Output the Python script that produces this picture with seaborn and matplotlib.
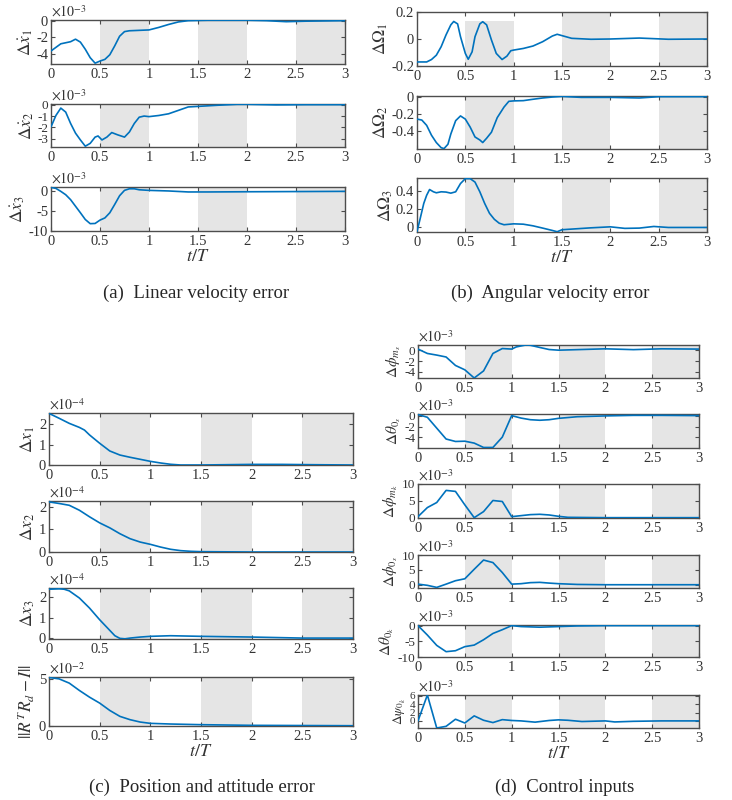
import matplotlib
matplotlib.use("Agg")
import matplotlib.pyplot as plt
import seaborn as sns

# ---- data (values in units of the axis multiplier) ----
# (a) linear velocity error, x1e-3
a1_t = [0, 0.1, 0.2, 0.25, 0.3, 0.35, 0.4, 0.45, 0.5, 0.55, 0.6, 0.65, 0.7, 0.75, 0.8, 0.9, 1.0,
        1.1, 1.2, 1.3, 1.4, 1.6, 2.0, 2.2, 2.4, 2.6, 3.0]
a1_y = [-3.6, -2.75, -2.5, -2.2, -2.55, -3.4, -4.4, -5.05, -4.8, -4.6, -4.05, -3.0, -1.85, -1.3, -1.2,
        -1.15, -1.1, -0.8, -0.45, -0.15, 0.0, 0.05, 0.05, 0.0, -0.12, -0.06, 0.0]
a2_t = [0, 0.05, 0.1, 0.15, 0.2, 0.25, 0.3, 0.35, 0.4, 0.45, 0.48, 0.52, 0.57, 0.62, 0.68, 0.75, 0.8,
        0.85, 0.9, 0.95, 1.0, 1.1, 1.2, 1.3, 1.4, 1.5, 1.7, 1.9, 2.0, 2.3, 2.6, 3.0]
a2_y = [-1.95, -0.95, -0.3, -0.65, -1.65, -2.5, -3.1, -3.65, -3.4, -2.85, -2.75, -3.1, -2.85, -2.45,
        -2.65, -2.85, -2.4, -1.65, -1.1, -1.0, -1.05, -0.95, -0.8, -0.5, -0.2, -0.15, -0.05, 0.03,
        0.03, -0.02, 0.0, 0.0]
a3_t = [0, 0.05, 0.1, 0.15, 0.2, 0.25, 0.3, 0.35, 0.4, 0.45, 0.5, 0.55, 0.6, 0.65, 0.7, 0.75, 0.8,
        0.85, 0.9, 1.0, 1.2, 1.4, 1.6, 2.0, 3.0]
a3_y = [1.0, 0.75, 0.0, -0.85, -2.1, -3.75, -5.4, -7.1, -8.15, -8.1, -7.25, -6.7, -5.4, -3.3, -1.1,
        0.25, 0.65, 0.65, 0.4, 0.25, 0.1, -0.15, -0.15, -0.1, 0.0]

# (b) angular velocity error
b1_t = [0, 0.1, 0.15, 0.2, 0.25, 0.3, 0.35, 0.38, 0.42, 0.45, 0.5, 0.53, 0.57, 0.6, 0.65, 0.68, 0.72,
        0.77, 0.82, 0.88, 0.93, 0.97, 1.0, 1.1, 1.2, 1.3, 1.4, 1.45, 1.5, 1.6, 1.8, 2.0, 2.3, 2.6, 3.0]
b1_y = [-0.17, -0.17, -0.152, -0.12, -0.057, 0.03, 0.105, 0.13, 0.112, 0.017, -0.107, -0.15, -0.095,
        0.017, 0.112, 0.128, 0.105, -0.007, -0.107, -0.152, -0.127, -0.087, -0.082, -0.07, -0.052,
        -0.02, 0.022, 0.035, 0.025, 0.005, -0.002, 0.0, 0.007, -0.002, 0.0]
b2_t = [0, 0.05, 0.1, 0.15, 0.2, 0.25, 0.28, 0.32, 0.35, 0.4, 0.45, 0.5, 0.55, 0.6, 0.65, 0.68, 0.72,
        0.77, 0.83, 0.9, 0.95, 1.0, 1.1, 1.2, 1.3, 1.4, 1.5, 1.7, 2.0, 2.3, 2.5, 3.0]
b2_y = [-0.257, -0.268, -0.33, -0.445, -0.53, -0.59, -0.6, -0.55, -0.43, -0.275, -0.22, -0.257, -0.35,
        -0.465, -0.5, -0.53, -0.48, -0.41, -0.24, -0.117, -0.05, -0.045, -0.042, -0.026, -0.011, 0.0,
        0.007, -0.004, -0.004, -0.011, 0.004, 0.004]
b3_t = [0, 0.03, 0.07, 0.1, 0.13, 0.17, 0.2, 0.25, 0.3, 0.35, 0.4, 0.45, 0.5, 0.55, 0.6, 0.65, 0.7,
        0.75, 0.8, 0.85, 0.9, 1.0, 1.1, 1.2, 1.3, 1.4, 1.45, 1.5, 1.6, 1.8, 2.0, 2.15, 2.3, 2.45, 2.6, 3.0]
b3_y = [-0.045, 0.085, 0.265, 0.355, 0.418, 0.393, 0.382, 0.393, 0.39, 0.378, 0.393, 0.484, 0.538,
        0.538, 0.5, 0.393, 0.265, 0.156, 0.09, 0.047, 0.03, 0.04, 0.036, 0.018, -0.007, -0.033, -0.047,
        -0.025, -0.018, -0.004, 0.007, -0.01, -0.007, 0.011, 0.0, 0.0]

# (c) position and attitude error
c1_t = [0, 0.1, 0.2, 0.3, 0.35, 0.4, 0.5, 0.6, 0.7, 0.8, 0.9, 1.0, 1.1, 1.2, 1.3, 1.5, 2.0, 2.3, 2.6, 3.0]
c1_y = [2.54, 2.3, 2.05, 1.85, 1.72, 1.48, 1.07, 0.69, 0.49, 0.38, 0.28, 0.18, 0.1, 0.035, 0.0, 0.0,
        0.03, 0.03, 0.015, 0.0]
c2_t = [0, 0.1, 0.2, 0.3, 0.4, 0.5, 0.6, 0.7, 0.8, 0.9, 1.0, 1.1, 1.2, 1.3, 1.4, 1.5, 2.0, 3.0]
c2_y = [2.22, 2.15, 2.07, 1.85, 1.56, 1.29, 1.07, 0.81, 0.59, 0.44, 0.34, 0.22, 0.12, 0.06, 0.03,
        0.015, 0.0, 0.0]
c3_t = [0, 0.1, 0.15, 0.2, 0.3, 0.4, 0.5, 0.6, 0.65, 0.7, 0.75, 0.8, 0.9, 1.0, 1.2, 1.5, 2.0, 2.5, 3.0]
c3_y = [2.4, 2.42, 2.4, 2.32, 1.97, 1.48, 0.91, 0.39, 0.13, 0.0, -0.02, 0.015, 0.065, 0.1, 0.13, 0.1,
        0.065, 0.015, 0.015]
c4_t = [0, 0.1, 0.2, 0.3, 0.4, 0.5, 0.6, 0.7, 0.8, 0.9, 1.0, 1.2, 1.5, 2.0, 3.0]
c4_y = [5.15, 5.0, 4.55, 3.77, 3.06, 2.43, 1.65, 1.02, 0.67, 0.42, 0.28, 0.21, 0.14, 0.07, 0.03]

# (d) control inputs, x1e-3
d1_t = [0, 0.1, 0.2, 0.3, 0.4, 0.5, 0.6, 0.7, 0.8, 0.9, 1.0, 1.05, 1.15, 1.2, 1.3, 1.4, 1.5, 1.7, 2.0,
        2.3, 2.6, 3.0]
d1_y = [0.2, -0.6, -0.9, -1.25, -2.8, -3.6, -5.1, -3.8, -0.6, 0.3, 0.2, 0.6, 0.95, 0.9, 0.5, 0.12, 0.0,
        0.1, 0.25, 0.1, 0.25, 0.2]
d2_t = [0, 0.1, 0.2, 0.3, 0.4, 0.5, 0.6, 0.7, 0.8, 0.9, 1.0, 1.1, 1.2, 1.3, 1.4, 1.5, 1.7, 2.0, 2.3,
        2.6, 3.0]
d2_y = [0.2, -0.3, -2.3, -4.3, -4.75, -4.7, -5.05, -5.85, -5.85, -3.95, 0.0, -0.45, -0.75, -0.85,
        -0.75, -0.5, -0.2, -0.05, 0.05, 0.05, 0.0]
d3_t = [0, 0.1, 0.2, 0.3, 0.4, 0.5, 0.6, 0.7, 0.8, 0.9, 1.0, 1.1, 1.2, 1.3, 1.4, 1.5, 1.6, 2.0, 3.0]
d3_y = [0.3, 3.0, 4.5, 8.1, 7.8, 3.8, 0.0, 1.8, 5.1, 4.8, 0.3, 0.6, 0.9, 1.0, 0.8, 0.4, 0.1, 0.0, 0.0]
d4_t = [0, 0.1, 0.2, 0.3, 0.4, 0.5, 0.6, 0.7, 0.8, 0.9, 1.0, 1.1, 1.2, 1.3, 1.4, 1.5, 1.7, 2.0, 2.5, 3.0]
d4_y = [0.2, -0.2, -0.9, 0.2, 1.35, 2.0, 5.2, 8.3, 7.45, 4.1, 0.2, 0.35, 0.7, 0.8, 0.55, 0.35, 0.1,
        0.0, 0.0, 0.0]
d5_t = [0, 0.1, 0.2, 0.3, 0.4, 0.5, 0.6, 0.7, 0.8, 0.9, 1.0, 1.1, 1.3, 1.5, 1.7, 2.0, 3.0]
d5_y = [0.0, -3.0, -6.3, -8.3, -8.0, -6.7, -6.2, -4.5, -2.5, -1.3, 0.0, -0.3, -0.5, -0.3, -0.1, 0.0, 0.0]
d6_t = [0, 0.1, 0.2, 0.3, 0.4, 0.5, 0.6, 0.7, 0.8, 0.9, 1.0, 1.1, 1.25, 1.4, 1.5, 1.6, 1.75, 2.0, 2.1,
        2.3, 2.6, 3.0]
d6_y = [0.0, 6.2, -1.7, -1.3, 0.4, -0.5, 1.2, 0.15, -0.4, 0.3, 0.1, 0.0, -0.3, 0.1, 0.25, 0.15, -0.15,
        0.0, -0.25, -0.1, 0.0, 0.0]

shade_spans = [(0.5, 1.0), (1.5, 2.0), (2.5, 3.0)]
x_ticks = [0, 0.5, 1, 1.5, 2, 2.5, 3]
x_ticklabels = ["0", "0.5", "1", "1.5", "2", "2.5", "3"]

# ---- style ----
sns.set_theme(style="ticks")
plt.rcParams["font.family"] = ["Liberation Serif", "DejaVu Serif"]
plt.rcParams["mathtext.fontset"] = "stix"
LINE = "#0072BD"
SHADE = "#e5e5e5"
AXC = "#4d4d4d"
TXT = "#333333"

fig = plt.figure(figsize=(7.32, 8.0), dpi=100)
W, H = 732.0, 800.0


def make_ax(l, t, r, b):
    return fig.add_axes([l / W, 1 - b / H, (r - l) / W, (b - t) / H])


def draw(ax, t, y, ylim, yticks, ylabel, mult=None, shade_top=None, lab_fs=12.5, ytick_fs=10.5):
    for i, (s0, s1) in enumerate(shade_spans):
        top = ylim[1]
        if shade_top is not None and i == 0:
            top = shade_top
        ax.fill_between([s0, s1], ylim[0], top, color=SHADE, linewidth=0, zorder=0)
    sns.lineplot(x=t, y=y, ax=ax, color=LINE, linewidth=1.2, estimator=None, sort=False, zorder=3)
    ax.set_xlim(0, 3)
    ax.set_ylim(*ylim)
    ax.set_xticks(x_ticks)
    ax.set_xticklabels(x_ticklabels)
    ax.set_yticks(yticks)
    ax.set_yticklabels([f"{v:g}" for v in yticks])
    ax.set_xlabel("")
    ax.set_ylabel(ylabel, fontsize=lab_fs, color=TXT, labelpad=1)
    ax.tick_params(direction="in", length=3, width=0.8, colors=AXC, labelcolor=TXT,
                   top=True, right=True, pad=3)
    ax.tick_params(axis="x", labelsize=10.5)
    ax.tick_params(axis="y", labelsize=ytick_fs, pad=2)
    for sp in ax.spines.values():
        sp.set_color(AXC)
        sp.set_linewidth(1.0)
        sp.set_visible(True)
    ax.set_facecolor("white")
    if mult:
        ax.text(0.0, 1.0, r"$\times10^{%s}$" % mult, transform=ax.transAxes, fontsize=10,
                color=TXT, ha="left", va="bottom")


# (a)
ax = make_ax(51, 20, 345, 64)
draw(ax, a1_t, a1_y, (-5.15, 0.08), [-4, -2, 0], r"$\Delta\dot{x}_1$", "-3")
ax = make_ax(51, 104, 345, 147)
draw(ax, a2_t, a2_y, (-3.72, 0.06), [-3, -2, -1, 0], r"$\Delta\dot{x}_2$", "-3", ytick_fs=9.5)
ax = make_ax(51, 187, 345, 231)
draw(ax, a3_t, a3_y, (-10, 1.1), [-10, -5, 0], r"$\Delta\dot{x}_3$", "-3")
ax.set_xlabel(r"$t/T$", fontsize=13, color=TXT, labelpad=0)
fig.text(196 / W, 1 - 293 / H, "(a)  Linear velocity error", fontsize=13.5, ha="center", va="center")

# (b)
ax = make_ax(417, 12, 707, 66)
draw(ax, b1_t, b1_y, (-0.2, 0.2), [-0.2, 0, 0.2], r"$\Delta\Omega_1$", shade_top=0.13)
ax = make_ax(417, 96, 707, 149)
draw(ax, b2_t, b2_y, (-0.605, 0.012), [-0.4, -0.2, 0], r"$\Delta\Omega_2$")
ax = make_ax(417, 178, 707, 232)
draw(ax, b3_t, b3_y, (-0.05, 0.545), [0, 0.2, 0.4], r"$\Delta\Omega_3$")
ax.set_xlabel(r"$t/T$", fontsize=13, color=TXT, labelpad=0)
fig.text(550 / W, 1 - 293 / H, "(b)  Angular velocity error", fontsize=13.5, ha="center", va="center")

# (c)
ax = make_ax(49, 413, 353, 465)
draw(ax, c1_t, c1_y, (0, 2.56), [0, 1, 2], r"$\Delta x_1$", "-4")
ax = make_ax(49, 501, 353, 552)
draw(ax, c2_t, c2_y, (0, 2.26), [0, 1, 2], r"$\Delta x_2$", "-4")
ax = make_ax(49, 588, 353, 639)
draw(ax, c3_t, c3_y, (-0.03, 2.46), [0, 1, 2], r"$\Delta x_3$", "-4")
ax = make_ax(49, 677, 353, 726)
draw(ax, c4_t, c4_y, (0, 5.2), [0, 5], r"$||R^TR_d-I||$", "-2")
ax.set_xlabel(r"$t/T$", fontsize=13, color=TXT, labelpad=0)
fig.text(202 / W, 1 - 787 / H, "(c)  Position and attitude error", fontsize=13.5, ha="center", va="center")

# (d)
dfs = 11
dtk = 9.5
ax = make_ax(418, 345, 699, 378)
draw(ax, d1_t, d1_y, (-5.1, 0.95), [-4, -2, 0], r"$\Delta\phi_{m_s}$", "-3", lab_fs=dfs, ytick_fs=dtk)
ax = make_ax(418, 414, 699, 448)
draw(ax, d2_t, d2_y, (-5.95, 0.3), [-4, -2, 0], r"$\Delta\theta_{0_s}$", "-3", lab_fs=dfs, ytick_fs=dtk)
ax = make_ax(418, 484, 699, 518)
draw(ax, d3_t, d3_y, (-0.1, 10), [0, 5, 10], r"$\Delta\phi_{m_k}$", "-3", lab_fs=dfs, ytick_fs=dtk)
ax = make_ax(418, 555, 699, 588)
draw(ax, d4_t, d4_y, (-1.1, 10), [0, 5, 10], r"$\Delta\phi_{0_s}$", "-3", lab_fs=dfs, ytick_fs=dtk)
ax = make_ax(418, 625, 699, 657)
draw(ax, d5_t, d5_y, (-10, 0.2), [-10, -5, 0], r"$\Delta\theta_{0_k}$", "-3", lab_fs=dfs, ytick_fs=dtk)
ax = make_ax(418, 695, 699, 728)
draw(ax, d6_t, d6_y, (-1.7, 6.2), [0, 2, 4, 6], r"$\Delta\psi_{0_k}$", "-3", lab_fs=9.5, ytick_fs=8)
ax.set_xlabel(r"$t/T$", fontsize=13, color=TXT, labelpad=0)
fig.text(565 / W, 1 - 787 / H, "(d)  Control inputs", fontsize=13.5, ha="center", va="center")

fig.savefig("out.png", dpi=100, facecolor="white")
